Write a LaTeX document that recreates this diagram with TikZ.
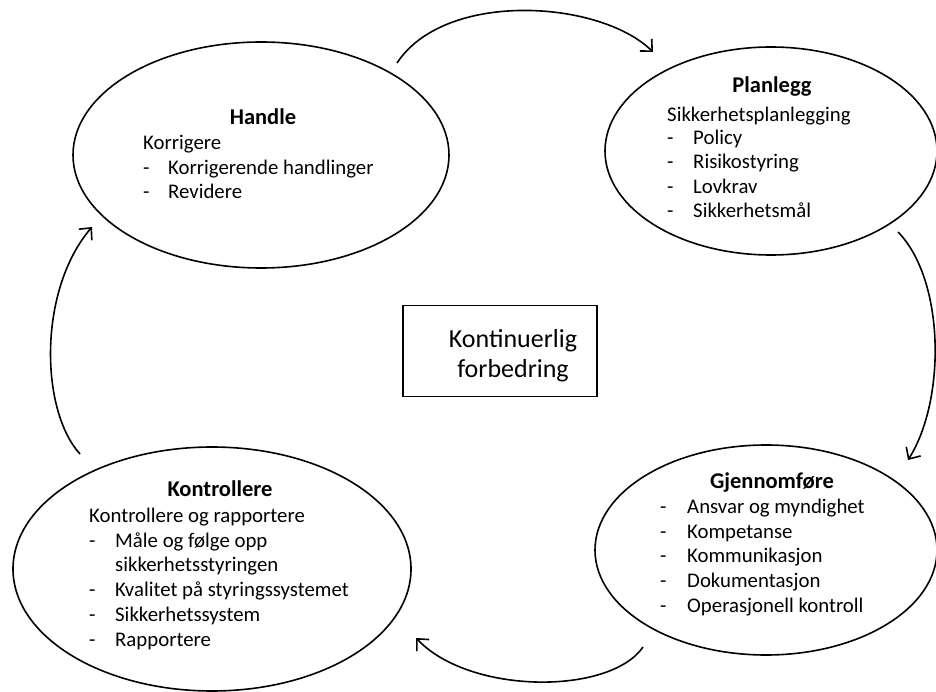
\documentclass[tikz,border=0pt]{standalone}
\usepackage{fontspec}
\setmainfont{Carlito}
\usetikzlibrary{shapes.geometric,arrows.meta}

\begin{document}
\begin{tikzpicture}[x=1pt,y=-1pt,
  phase/.style={ellipse, draw, line width=1.6pt, inner sep=0pt},
  ttl/.style={anchor=base, inner sep=0pt, font=\fontsize{22.5}{26}\selectfont\bfseries},
  txt/.style={anchor=base west, inner sep=0pt, font=\fontsize{20.8}{25}\selectfont},
  big/.style={anchor=base, inner sep=0pt, font=\fontsize{26}{30}\selectfont},
  cycle/.style={line width=1.6pt, -{Straight Barb[length=9pt,width=17pt,line width=1.6pt]}}
]
\useasboundingbox (0,0) rectangle (936,692);

% four phases of the cycle
\node[phase, minimum width=376, minimum height=226] (handle) at (261,155) {};
\node[phase, minimum width=332, minimum height=208] (plan)   at (771,151) {};
\node[phase, minimum width=342, minimum height=210] (gjen)   at (766,550) {};
\node[phase, minimum width=398, minimum height=244] (kontr)  at (212,569) {};

% centre box
\node[draw, line width=1.6pt, minimum width=194, minimum height=91, inner sep=0pt] (kf) at (500,351) {};
\node[big] (kf1) at (513,347) {Kontinuerlig};
\node[big] (kf2) at (513,377) {forbedring};

% Handle
\node[ttl] (h0) at (263,125) {Handle};
\node[txt] (h1) at (143,150) {Korrigere};
\node[txt] (h2d) at (143,175) {-};
\node[txt] (h2) at (168,175) {Korrigerende handlinger};
\node[txt] (h3d) at (143,199) {-};
\node[txt] (h3) at (168,199) {Revidere};

% Planlegg
\node[ttl] (p0) at (772,93) {Planlegg};
\node[txt] (p1) at (667,122) {Sikkerhetsplanlegging};
\node[txt] (p2d) at (667,145) {-};
\node[txt] (p2) at (693,145) {Policy};
\node[txt] (p3d) at (667,169) {-};
\node[txt] (p3) at (693,169) {Risikostyring};
\node[txt] (p4d) at (667,194) {-};
\node[txt] (p4) at (693,194) {Lovkrav};
\node[txt] (p5d) at (667,218) {-};
\node[txt] (p5) at (693,218) {Sikkerhetsmål};

% Gjennomføre
\node[ttl] (g0) at (772,488) {Gjennomføre};
\node[txt] (g1d) at (660,513) {-};
\node[txt] (g1) at (687,513) {Ansvar og myndighet};
\node[txt] (g2d) at (660,538) {-};
\node[txt] (g2) at (687,538) {Kompetanse};
\node[txt] (g3d) at (660,562) {-};
\node[txt] (g3) at (687,562) {Kommunikasjon};
\node[txt] (g4d) at (660,587) {-};
\node[txt] (g4) at (687,587) {Dokumentasjon};
\node[txt] (g5d) at (660,612) {-};
\node[txt] (g5) at (687,612) {Operasjonell kontroll};

% Kontrollere
\node[ttl] (k0) at (220,496) {Kontrollere};
\node[txt] (k1) at (89,522) {Kontrollere og rapportere};
\node[txt] (k2d) at (89,547) {-};
\node[txt] (k2) at (115,547) {Måle og følge opp};
\node[txt] (k2b) at (115,571) {sikkerhetsstyringen};
\node[txt] (k3d) at (89,596) {-};
\node[txt] (k3) at (115,596) {Kvalitet på styringssystemet};
\node[txt] (k4d) at (89,621) {-};
\node[txt] (k4) at (115,621) {Sikkerhetssystem};
\node[txt] (k5d) at (89,646) {-};
\node[txt] (k5) at (115,646) {Rapportere};

% arrow ends
\coordinate (a1s) at (397,63);  \coordinate (a1e) at (653,52);
\coordinate (a2s) at (898,232); \coordinate (a2e) at (908,460);
\coordinate (a3s) at (643,647); \coordinate (a3e) at (416,638);
\coordinate (a4s) at (80,454);  \coordinate (a4e) at (92,227);

\draw[cycle] (a1s) .. controls (445,-10) and (600,0) .. (a1e);
\draw[cycle] (a2s) .. controls (945,280) and (946,400) .. (a2e);
\draw[cycle] (a3s) .. controls (610,695) and (470,695) .. (a3e);
\draw[cycle] (a4s) .. controls (40,410) and (38,290) .. (a4e);
\end{tikzpicture}
\end{document}
